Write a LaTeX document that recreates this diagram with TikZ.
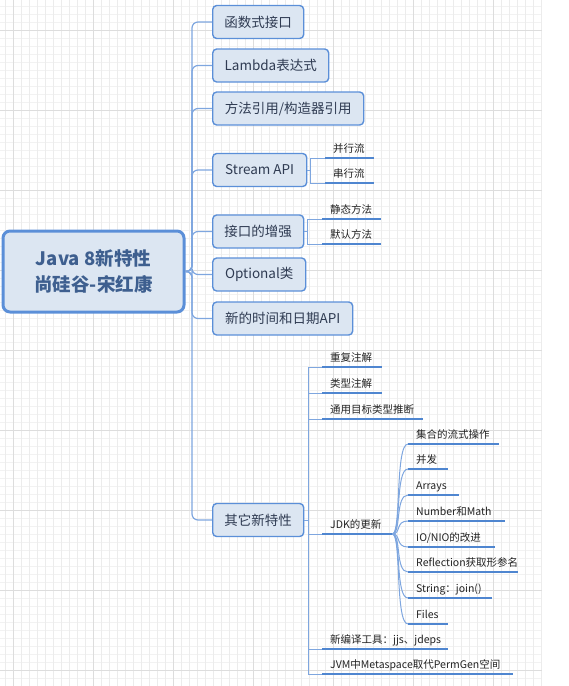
\documentclass[tikz,border=0pt]{standalone}
\usepackage{fontspec}
\setmainfont{Noto Sans CJK SC}
\usetikzlibrary{calc}
\definecolor{gridminor}{HTML}{ECECEC}
\definecolor{gridminorh}{HTML}{F2F2F2}
\definecolor{gridmajor}{HTML}{DDDDDD}
\definecolor{boxfill}{HTML}{DCE6F2}
\definecolor{boxline}{HTML}{5B8FD8}
\definecolor{roottext}{HTML}{3E5F8F}
\definecolor{boxtext}{HTML}{2F3B52}
\definecolor{trunkline}{HTML}{7EA6DF}
\definecolor{uline}{HTML}{4F86D0}
\definecolor{leaftext}{HTML}{222222}
\begin{document}
\begin{tikzpicture}[x=1pt,y=-1pt,
  rootbox/.style={draw=boxline, line width=3, fill=boxfill, rounded corners=7,
    minimum width=181, minimum height=81, align=center, text=roottext,
    font=\fontsize{18.5}{26}\selectfont\bfseries},
  topic/.style={draw=boxline, line width=1.4, fill=boxfill, rounded corners=4,
    minimum height=33, inner xsep=11, anchor=west, text=boxtext,
    font=\fontsize{13.5}{16}\selectfont},
  leaf/.style={anchor=south west, inner xsep=8, inner ysep=3.5, text width=#1,
    align=left, text height=8, text depth=2, text=leaftext,
    font=\fontsize{10.5}{12}\selectfont,
    append after command={\pgfextra{\draw[uline, line width=2.5]
      (\tikzlastnode.south west) -- (\tikzlastnode.south east);}}},
  trunk/.style={draw=trunkline, line width=1.2, rounded corners=6},
  sub/.style={draw=trunkline, line width=1}
]
\useasboundingbox (0,0) rectangle (569,686);
% grid
\foreach \y in {6,14,...,686} \draw[gridminorh, line width=0.8] (0,\y) -- (542,\y);
\foreach \x in {5,13,...,541} \draw[gridminor, line width=0.8] (\x,0) -- (\x,686);
\foreach \y in {30,110,...,670} \draw[gridmajor, line width=0.9] (0,\y) -- (542,\y);
\foreach \x in {13,93,...,493} \draw[gridmajor, line width=0.9] (\x,0) -- (\x,686);

% root
\node[rootbox] (root) at (93.5,271.5) {Java 8新特性\\尚硅谷-宋红康};
\coordinate (hub) at (192,271.5);

% topics
\node[topic, minimum width=91]  (b1) at (212,22)    {函数式接口};
\node[topic, minimum width=116] (b2) at (212,65.5)  {Lambda表达式};
\node[topic, minimum width=151] (b3) at (212,108.5) {方法引用/构造器引用};
\node[topic, minimum width=94]  (b4) at (212,170)   {Stream API};
\node[topic, minimum width=91]  (b5) at (212,231.5) {接口的增强};
\node[topic, minimum width=93]  (b6) at (212,274.5) {Optional类};
\node[topic, minimum width=140] (b7) at (212,318.5) {新的时间和日期API};
\node[topic, minimum width=91]  (b8) at (212,520)   {其它新特性};

\foreach \b in {b1,b2,b3,b4,b5,b6,b7,b8}
  \draw[trunk] (root.east) -- (hub) |- (\b.west);

% Stream API
\node[leaf=33] (s1) at (325,158) {并行流};
\node[leaf=33] (s2) at (325,183) {串行流};
\foreach \s in {s1,s2} \draw[sub] (b4.east) -- ++(3.5,0) |- (\s.south west);

% interface
\node[leaf=43] (i1) at (322,219) {静态方法};
\node[leaf=43] (i2) at (322,244) {默认方法};
\foreach \s in {i1,i2} \draw[sub] (b5.east) -- ++(3.5,0) |- (\s.south west);

% others
\node[leaf=44]  (o1) at (322,367) {重复注解};
\node[leaf=44]  (o2) at (322,393) {类型注解};
\node[leaf=85]  (o3) at (322,419) {通用目标类型推断};
\node[leaf=54]  (jdk) at (322,534) {JDK的更新};
\node[leaf=110] (o5) at (322,649) {新编译工具：jjs、jdeps};
\node[leaf=175] (o6) at (322,674) {JVM中Metaspace取代PermGen空间};
\foreach \s in {o1,o2,o3,jdk,o5,o6} \draw[sub] (b8.east) -- ++(4,0) |- (\s.south west);

% JDK updates
\node[leaf=75] (c1) at (408,444) {集合的流式操作};
\node[leaf=24] (c2) at (408,469) {并发};
\node[leaf=35] (c3) at (408,495) {Arrays};
\node[leaf=81] (c4) at (408,521) {Number和Math};
\node[leaf=71] (c5) at (408,547) {IO/NIO的改进};
\node[leaf=94] (c6) at (408,572) {Reflection获取形参名};
\node[leaf=68] (c7) at (408,598) {String：join()};
\node[leaf=24] (c8) at (408,624) {Files};
\foreach \c in {c1,c2,c3,c4,c5,c6,c7,c8}
  \draw[sub] (jdk.south east) .. controls +(9,0) and +(-13,0) .. (\c.south west);
\end{tikzpicture}
\end{document}
